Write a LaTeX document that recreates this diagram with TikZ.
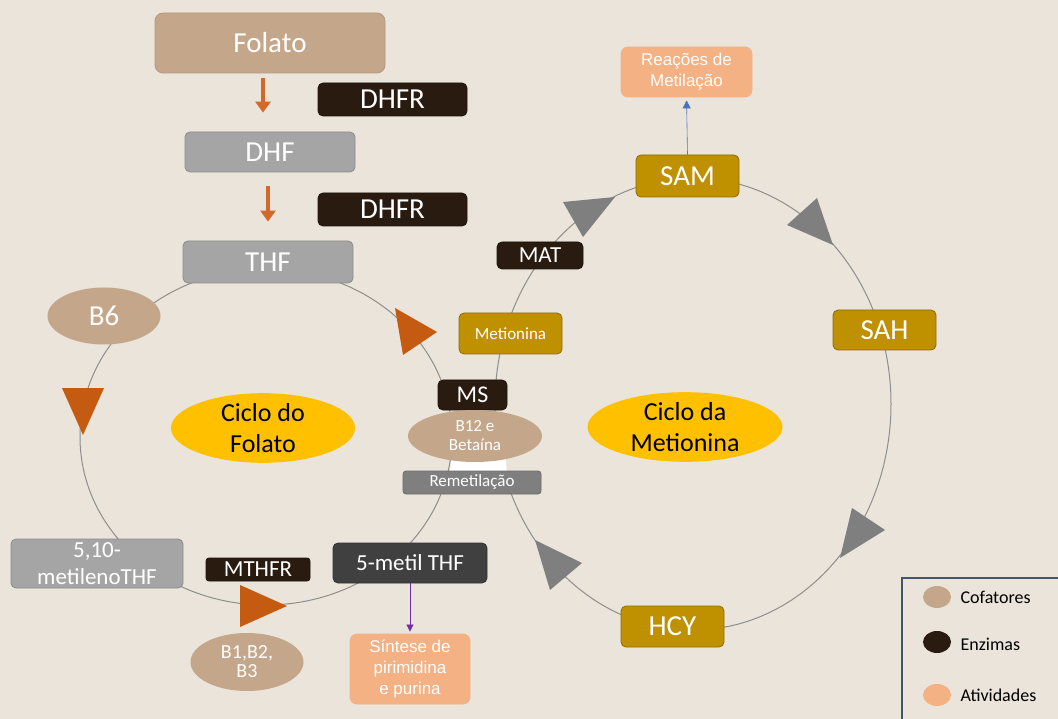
\documentclass[tikz,border=0pt]{standalone}
\usepackage{fontspec}
\setmainfont{Carlito}
\newfontfamily\arialf{Liberation Sans}
\usetikzlibrary{shapes.geometric,arrows.meta}
\definecolor{bgc}{HTML}{EAE4DA}
\definecolor{tanc}{HTML}{C4A78A}
\definecolor{grayb}{HTML}{A5A5A5}
\definecolor{darkb}{HTML}{2A1B10}
\definecolor{goldc}{HTML}{BF9000}
\definecolor{yelc}{HTML}{FFC000}
\definecolor{oarrow}{HTML}{D2692A}
\definecolor{otri}{HTML}{C55A11}
\definecolor{gtri}{HTML}{7F7F7F}
\definecolor{dgray}{HTML}{404040}
\definecolor{salm}{HTML}{F4B183}
\definecolor{cline}{HTML}{8E8E8E}
\definecolor{bluea}{HTML}{4472C4}
\definecolor{purp}{HTML}{7030A0}
\definecolor{legb}{HTML}{44546A}
\newcommand{\fs}[2]{\fontsize{#1}{#2}\selectfont}
\begin{document}
\begin{tikzpicture}[x=1pt,y=-1pt,
  box/.style={rectangle, rounded corners=5pt, line width=0.8pt, text=white, inner sep=0pt, align=center},
  tanbox/.style={box, fill=tanc, draw=tanc!92!black},
  graybox/.style={box, fill=grayb, draw=grayb!85!black},
  enz/.style={box, fill=darkb, draw=darkb!70!black},
  goldbox/.style={box, fill=goldc, draw=goldc!75!black},
  act/.style={box, fill=salm, draw=salm, rounded corners=7pt, font=\arialf\fs{17}{21}},
  cof/.style={ellipse, fill=tanc, draw=none, inner sep=0pt, text=white, align=center},
  cyc/.style={ellipse, fill=yelc, draw=none, inner sep=0pt, text=black, align=center, font=\fs{26}{31}},
  orarrow/.style={draw=oarrow, line width=3.5pt, -{Triangle[width=15pt,length=11pt]}},
  cycline/.style={draw=cline, line width=1pt},
  otriangle/.style={fill=otri},
  gtriangle/.style={fill=gtri},
  legdot/.style={ellipse, inner sep=0pt, minimum width=28pt, minimum height=22pt},
  legtxt/.style={anchor=west, text=black, font=\fs{18}{20}}
]
\useasboundingbox (0,0) rectangle (1058,719);
\clip (0,0) rectangle (1058,719);
\fill[bgc] (0,0) rectangle (1058,719);

% cycle lines
\draw[cycline] (266,437) ellipse [x radius=186, y radius=168];
\draw[cycline] (693,404) ellipse [x radius=198, y radius=226];
\fill[white] (452,456) -- (505,456) -- (507,472) -- (450,472) -- cycle;

% triangles
\fill[otriangle] (395,308) -- (437,332) -- (403,355) -- cycle;
\fill[otriangle] (62,388) -- (104,388) -- (83,435) -- cycle;
\fill[otriangle] (240,585) -- (287,606) -- (240,627) -- cycle;
\fill[gtriangle] (563,202) -- (615,197) -- (583,237) -- cycle;
\fill[gtriangle] (787,225) -- (817,198) -- (833,245) -- cycle;
\fill[gtriangle] (852,508) -- (885,530) -- (840,558) -- cycle;
\fill[gtriangle] (535,540) -- (582,563) -- (550,590) -- cycle;

% folate chain
\node[tanbox, rounded corners=8pt, minimum width=230pt, minimum height=60pt, font=\fs{29}{32}] (folato) at (270,43) {Folato};
\node[enz, minimum width=149pt, minimum height=33pt, font=\fs{29}{32}] (dhfra) at (392.5,99.5) {DHFR};
\node[graybox, minimum width=170pt, minimum height=40pt, font=\fs{29}{32}] (dhf) at (270,152) {DHF};
\node[enz, minimum width=149pt, minimum height=33pt, font=\fs{29}{32}] (dhfrb) at (392.5,209.5) {DHFR};
\node[graybox, minimum width=170pt, minimum height=42pt, font=\fs{29}{32}] (thf) at (268,262) {THF};

\coordinate (ax1) at (263,0);
\coordinate (ax2) at (268,0);
\draw[orarrow, shorten <=5pt, shorten >=19pt] (folato.south -| ax1) -- (dhf.north -| ax1);
\draw[orarrow, shorten <=14pt, shorten >=19pt] (dhf.south -| ax2) -- (thf.north -| ax2);

% folate cycle nodes
\node[cof, minimum width=113pt, minimum height=57pt, font=\fs{29}{32}] (b6) at (104,316) {B6};
\node[cyc, minimum width=184pt, minimum height=56pt] (cicf) at (263,428) {Ciclo do\\Folato};
\node[graybox, minimum width=172pt, minimum height=49pt, font=\fs{23}{27}] (m510) at (97,563.5) {5,10-\\metilenoTHF};
\node[enz, rounded corners=3pt, minimum width=104pt, minimum height=23pt, font=\fs{23}{26}] (mthfr) at (258,569.5) {MTHFR};
\node[box, fill=dgray, draw=dgray!80!black, minimum width=154pt, minimum height=40pt, font=\fs{23}{26}] (metil) at (410,563) {5-metil THF};
\node[cof, minimum width=113pt, minimum height=58pt, font=\fs{20}{19}] (b123) at (247,662) {B1,B2,\\B3};
\node[act, minimum width=120pt, minimum height=70pt] (sint) at (410,669) {Síntese de\\pirimidina\\e purina};
\draw[draw=purp, line width=0.7pt, -{Triangle[width=7pt,length=7pt]}, shorten >=2pt] (metil.south) -- (sint.north);

% middle
\node[goldbox, minimum width=103pt, minimum height=41pt, font=\fs{17}{20}] (metionina) at (510.5,333.5) {Metionina};
\node[enz, minimum width=69pt, minimum height=30pt, font=\fs{24}{26}] (ms) at (472.5,395) {MS};
\node[cof, minimum width=134pt, minimum height=52pt, font=\fs{17}{19}] (b12) at (475,436) {B12 e\\Betaína};
\node[box, fill=gtri, draw=gtri!85!black, rounded corners=3pt, minimum width=138pt, minimum height=23pt, font=\fs{17}{20}] (remet) at (472,482.5) {Remetilação};

% methionine cycle
\node[enz, minimum width=86pt, minimum height=27pt, font=\fs{23}{26}] (mat) at (540,255.5) {MAT};
\node[goldbox, minimum width=103pt, minimum height=42pt, font=\fs{29}{32}] (sam) at (687.5,176) {SAM};
\node[act, minimum width=131pt, minimum height=50pt] (reac) at (686.5,72) {Reações de\\Metilação};
\draw[draw=bluea!80!gray, line width=0.6pt, -{Triangle[width=8pt,length=8pt,fill=bluea]}, shorten >=3pt] (sam.north) -- (reac.south);
\node[goldbox, minimum width=103pt, minimum height=40pt, font=\fs{29}{32}] (sah) at (884.5,330) {SAH};
\node[goldbox, minimum width=103pt, minimum height=41pt, font=\fs{29}{32}] (hcy) at (672.5,626.5) {HCY};
\node[cyc, minimum width=195pt, minimum height=58pt] (cicm) at (685,427) {Ciclo da\\Metionina};

% legend
\draw[draw=legb, line width=1.3pt] (902,578) rectangle (1075,735);
\node[legdot, fill=tanc] (l1) at (937,597) {};
\node[legdot, fill=darkb] (l2) at (937,642) {};
\node[legdot, fill=salm] (l3) at (937,695) {};
\node[legtxt] (t1) at (957,597) {Cofatores};
\node[legtxt] (t2) at (957,644) {Enzimas};
\node[legtxt] (t3) at (957,695) {Atividades};
\end{tikzpicture}
\end{document}
